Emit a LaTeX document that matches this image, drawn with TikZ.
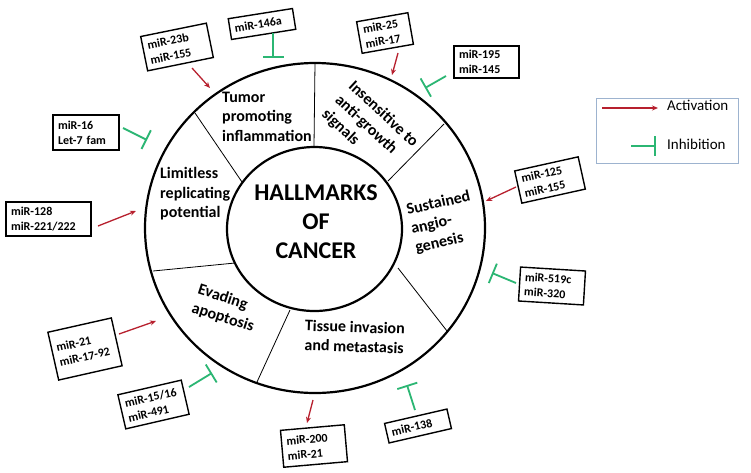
\documentclass[tikz,border=0pt]{standalone}
\usepackage{fontspec}
\setmainfont{Carlito}
\usetikzlibrary{arrows.meta}
\definecolor{actred}{HTML}{B7202E}
\definecolor{inhgreen}{HTML}{2BB673}
\definecolor{legendline}{HTML}{9DB3CF}
\begin{document}
\begin{tikzpicture}[x=1pt,y=-1pt,
  mir/.style={draw, line width=1.4pt, font=\fontsize{12}{15}\selectfont\bfseries, align=left, inner xsep=5pt, inner ysep=2pt},
  lab/.style={font=\fontsize{16}{19.5}\selectfont\bfseries, align=left, inner sep=0pt},
  act/.style={actred, line width=1.3pt, -{Stealth[length=6pt,width=5pt]}},
  inh/.style={inhgreen, line width=1.8pt, -{Bar[width=21pt]}},
  divider/.style={line width=0.8pt},
  ring/.style={line width=2.2pt},
  legtext/.style={font=\fontsize{15}{18}\selectfont, anchor=west, inner sep=0pt}]

\useasboundingbox[fill=white] (0,0) rectangle (751,472);

% rings
\coordinate (oc) at (315,228);
\coordinate (ic) at (314.5,229);
\draw[ring] (oc) ellipse [x radius=170pt, y radius=165pt];
\draw[ring] (ic) ellipse [x radius=87.5pt, y radius=82pt];

% dividers
\coordinate (d1a) at (314,146); \coordinate (d1b) at (315,63);
\coordinate (d2a) at (242,182); \coordinate (d2b) at (195,113);
\coordinate (d3a) at (388,181); \coordinate (d3b) at (444,124);
\coordinate (d4a) at (235,263); \coordinate (d4b) at (153,271);
\coordinate (d5a) at (398,268); \coordinate (d5b) at (447,331);
\coordinate (d6a) at (290,310); \coordinate (d6b) at (257,382);
\draw[divider] (d1a) -- (d1b);
\draw[divider] (d2a) -- (d2b);
\draw[divider] (d3a) -- (d3b);
\draw[divider] (d4a) -- (d4b);
\draw[divider] (d5a) -- (d5b);
\draw[divider] (d6a) -- (d6b);

% centre title
\node[font=\fontsize{24}{29}\selectfont\bfseries, align=center, inner sep=0pt, anchor=base] (title) at (316,258.5) {HALLMARKS\\OF\\CANCER};

% hallmark labels (base anchor = baseline of last line)
\node[lab, anchor=base west] (tumor) at (222,141) {Tumor\\promoting\\inflammation};
\node[lab, anchor=base west, rotate=-43] (insens) at (321,115.5) {Insensitive to\\anti-growth\\signals};
\node[lab, anchor=base west] (limit) at (160,217.5) {Limitless\\replicating\\potential};
\node[lab, anchor=base west, rotate=13] (sust) at (416.5,253) {Sustained\\angio-\\genesis};
\node[lab, anchor=base west, rotate=-18] (evad) at (190.8,312) {Evading\\apoptosis};
\node[lab, align=center, anchor=base, rotate=-2] (tissue) at (354,352) {Tissue invasion\\and metastasis};

% miRNA boxes
\node[mir, text width=57pt, minimum height=35pt, rotate=11.5] (b23) at (177,47) {miR-23b\\miR-155};
\node[mir, text width=55pt, minimum height=21pt, rotate=9] (b146) at (262,24) {miR-146a};
\node[mir, text width=42pt, minimum height=32pt, rotate=10] (b25) at (385,33) {miR-25\\miR-17};
\node[mir, text width=55pt, minimum height=32pt] (b195) at (486.5,62) {miR-195\\miR-145};
\node[mir, text width=56pt, minimum height=35pt] (b16) at (86,132.5) {miR-16\\Let-7 fam};
\node[mir, text width=75pt, minimum height=34pt] (b128) at (48.5,219) {miR-128\\miR-221/222};
\node[mir, text width=55pt, minimum height=49pt, rotate=12.7] (b21) at (85,349) {miR-21\\miR-17-92};
\node[mir, text width=55pt, minimum height=35pt, rotate=13] (b15) at (153.5,404.5) {miR-15/16\\miR-491};
\node[mir, text width=54pt, minimum height=37pt, rotate=5] (b200) at (314,446) {miR-200\\miR-21};
\node[mir, text width=54pt, minimum height=20pt, rotate=13] (b138) at (418,426) {miR-138};
\node[mir, text width=55pt, minimum height=34pt, rotate=-3.5] (b519) at (552,286) {miR-519c\\miR-320};
\node[mir, text width=55pt, minimum height=33pt, rotate=12.5] (b125) at (550,180) {miR-125\\miR-155};

% activation arrows
\coordinate (a1s) at (192,68);  \coordinate (a1e) at (210,88);
\coordinate (a2s) at (398,53);  \coordinate (a2e) at (392,75);
\coordinate (a3s) at (98,226);  \coordinate (a3e) at (136,211);
\coordinate (a4s) at (119,334); \coordinate (a4e) at (156,321);
\coordinate (a5s) at (313,400); \coordinate (a5e) at (307,423);
\coordinate (a6s) at (516,187); \coordinate (a6e) at (486,201);
\draw[act] (a1s) -- (a1e);
\draw[act] (a2s) -- (a2e);
\draw[act] (a3s) -- (a3e);
\draw[act] (a4s) -- (a4e);
\draw[act] (a5s) -- (a5e);
\draw[act] (a6s) -- (a6e);

% inhibition connectors
\coordinate (i1s) at (273,33);  \coordinate (i1e) at (273,58);
\coordinate (i2s) at (446,76);  \coordinate (i2e) at (425,88);
\coordinate (i3s) at (123,128); \coordinate (i3e) at (147,140);
\coordinate (i4s) at (189,387); \coordinate (i4e) at (212,373);
\coordinate (i5s) at (415,410); \coordinate (i5e) at (407,385);
\coordinate (i6s) at (516,283); \coordinate (i6e) at (492,273);
\draw[inh] (i1s) -- (i1e);
\draw[inh] (i2s) -- (i2e);
\draw[inh] (i3s) -- (i3e);
\draw[inh] (i4s) -- (i4e);
\draw[inh] (i5s) -- (i5e);
\draw[inh] (i6s) -- (i6e);

% legend
\node[draw=legendline, line width=0.8pt, minimum width=142pt, minimum height=65pt, inner sep=0pt] (legend) at (667,130.5) {};
\coordinate (la1) at (602,108); \coordinate (la2) at (658,108);
\coordinate (li1) at (631,146); \coordinate (li2) at (656,146);
\draw[act] (la1) -- (la2);
\draw[inh, -{Bar[width=20pt]}] (li1) -- (li2);
\node[legtext] (lact) at (667,105) {Activation};
\node[legtext] (linh) at (667,144) {Inhibition};
\end{tikzpicture}
\end{document}
